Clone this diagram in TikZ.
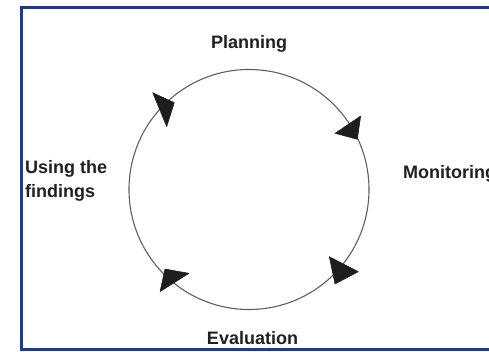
\documentclass[tikz,border=0pt]{standalone}
\usepackage{fontspec}
\setmainfont{Liberation Sans}
\definecolor{frameblue}{RGB}{36,56,140}
\definecolor{ringgray}{RGB}{95,95,95}
\definecolor{labelink}{RGB}{32,32,32}
\definecolor{headink}{RGB}{30,30,30}
\begin{document}
\begin{tikzpicture}[x=1pt,y=-1pt,
  lbl/.style={font=\bfseries\fontsize{18}{24}\selectfont, text=labelink, inner sep=0pt},
  ring/.style={draw=ringgray, line width=1.1pt, circle, minimum size=240pt, inner sep=0pt},
  head/.style={fill=headink, draw=headink, line width=0.5pt, line join=round}]
\useasboundingbox (0,0) rectangle (489,351);
\fill[white] (0,0) rectangle (489,351);
% frame
\draw[frameblue, line width=3pt] (500,7.5) -- (21,7.5) -- (21,349.5) -- (500,349.5);
% cycle
\node[ring] (cyc) at (249,189.5) {};
% arrowheads
\filldraw[head] (152.7,92.7) -- (174.3,102.7) -- (166.7,126.7) -- cycle;
\filldraw[head] (360.7,116) -- (335,133.3) -- (357.3,139.3) -- cycle;
\filldraw[head] (329.3,256.7) -- (358.3,271.7) -- (335,284) -- cycle;
\filldraw[head] (165,269) -- (189,273.3) -- (160,291.7) -- cycle;
% labels
\node[lbl, anchor=base] (plan) at (249,48) {Planning};
\node[lbl, anchor=base] (eval) at (252.5,344) {Evaluation};
\node[lbl, anchor=base west] (mon) at (403,178) {Monitoring};
\node[lbl, anchor=north west, align=left] (use) at (25,160) {Using the\\findings};
\end{tikzpicture}
\end{document}
